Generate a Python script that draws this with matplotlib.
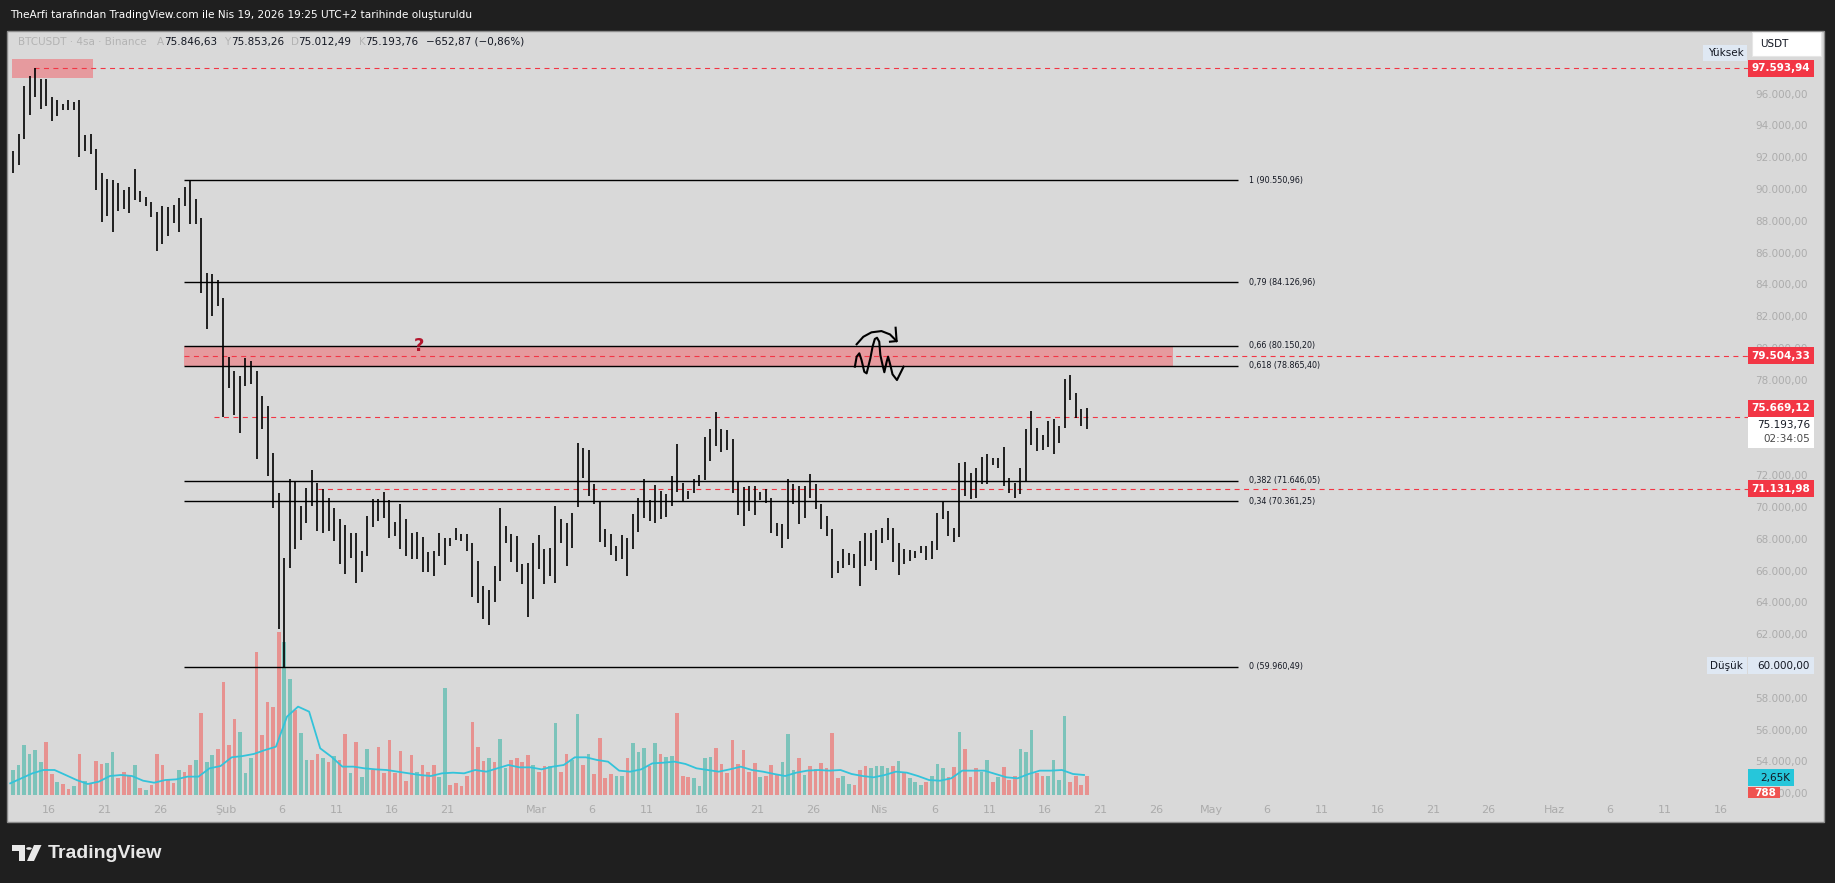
import matplotlib
matplotlib.use("Agg")
import matplotlib.pyplot as plt
import matplotlib.dates as mdates
from matplotlib.patches import Rectangle, Polygon, Circle
import numpy as np
import pandas as pd

W, H = 1835, 883

# --- BTCUSDT, 12h buckets (high / low) ---
highs = [
    92400, 93480, 96460, 97080, 97594, 96900, 96900, 95800, 95620, 95360,
    95620, 95450, 95620, 93420, 93430, 92530, 90990, 90650, 90550, 90400,
    89960, 90140, 91240, 89880, 89520, 89190, 88550, 88930, 88850, 89010,
    89440, 90140, 90551, 89370, 88160, 84740, 84640, 84300, 83150, 79420,
    78520, 78260, 79340, 79160, 78520, 76980, 76330, 73370, 70860, 66800,
    71730, 71620, 70050, 71200, 72320, 71480, 71100, 70540, 69950, 69260,
    68840, 68340, 68380, 67230, 69430, 70520, 70520, 70930, 70430, 69050,
    70160, 69260, 68340, 68420, 68130, 67170, 67230, 68340, 68070, 68070,
    68690, 68280, 68280, 67710, 66600, 65030, 64780, 66290, 69950, 68800,
    68280, 68170, 66390, 66450, 67750, 68210, 67330, 67440, 70050, 69260,
    69010, 69640, 74030, 73720, 73550, 71420, 70310, 68590, 68270, 67540,
    68210, 68070, 69530, 70580, 71770, 70430, 71350, 71000, 70790, 71940,
    73930, 71480, 71000, 71770, 71980, 74410, 74910, 75980, 74870, 74830,
    74280, 71620, 71270, 71310, 71310, 70930, 71100, 70580, 69010, 68900,
    71770, 71420, 71310, 71310, 72040, 71420, 70160, 69430, 68630, 66600,
    67330, 67120, 67020, 67860, 68380, 68380, 68580, 68690, 69320, 68690,
    67740, 67360, 67320, 67220, 67570, 67570, 67850, 69590, 70300, 69740,
    68690, 72740, 72820, 72150, 72460, 73160, 73300, 73100, 73100, 73790,
    71840, 71520, 72460, 74880, 76030, 74980, 74500, 75400, 75510, 75090,
    78020, 78300, 77190, 76180, 76240,
]
lows = [
    91000, 91500, 93120, 94665, 95795, 95050, 95230, 94290, 94590, 94990,
    94970, 94970, 92000, 92400, 92190, 89960, 87900, 88290, 87310, 88600,
    88750, 88470, 89300, 89190, 88930, 88240, 86100, 86540, 87050, 87830,
    87310, 88930, 87775, 87775, 83450, 81220, 81990, 82640, 75670, 77490,
    75800, 74660, 77630, 77700, 73000, 74920, 71960, 69910, 62330, 59960,
    66180, 67330, 67920, 68970, 70050, 68480, 68340, 68480, 67860, 66390,
    65760, 66810, 65200, 65900, 66910, 68750, 69110, 69320, 68070, 68170,
    67370, 66910, 66700, 66700, 65910, 65890, 65650, 66920, 66330, 67540,
    67920, 67850, 67230, 64340, 63970, 62930, 62560, 64000, 65340, 67750,
    66540, 65910, 65130, 63090, 64230, 66120, 65130, 65650, 65240, 67750,
    66290, 67440, 70000, 71830, 70680, 70160, 67790, 67500, 66960, 66600,
    66700, 65660, 67330, 68420, 69320, 69110, 69010, 69260, 69380, 70050,
    70930, 70370, 70470, 70890, 71310, 71690, 72870, 73820, 73450, 73610,
    70890, 69470, 68800, 69740, 69470, 70430, 70260, 68380, 68170, 67440,
    67960, 70160, 68900, 69320, 70580, 69850, 68630, 68170, 65550, 65860,
    66180, 66330, 66180, 65030, 66290, 66590, 66060, 67740, 67950, 66520,
    65750, 66440, 66590, 66800, 67110, 66690, 66740, 67320, 69210, 68160,
    67780, 68120, 70680, 70510, 70580, 71420, 71420, 72610, 72460, 71310,
    70890, 70580, 70790, 71620, 73870, 73510, 73580, 73790, 73300, 74040,
    74980, 76710, 75580, 75090, 74920,
]
volumes = [
    3700, 4400, 7350, 6000, 6600, 4900, 7840, 3100, 1960, 1600,
    880, 1300, 6000, 2060, 1700, 5000, 4600, 4700, 6350, 2450,
    3400, 2900, 4400, 1100, 800, 1450, 6100, 4400, 2200, 1700,
    3670, 3400, 4400, 5140, 12000, 4900, 5880, 6700, 16600, 7350,
    11100, 9300, 3200, 5500, 21000, 8800, 13700, 13000, 24000, 22500,
    17100, 12500, 9150, 5200, 5200, 6000, 5400, 4900, 5800, 5100,
    9000, 3200, 7800, 2700, 6700, 3700, 7000, 3200, 8100, 3200,
    6500, 2000, 5900, 3400, 4400, 3400, 4400, 2700, 15700, 1450,
    1700, 1300, 2800, 10800, 7000, 5000, 5500, 4900, 8200, 3900,
    5200, 5400, 4900, 5900, 4400, 3400, 4200, 4200, 10600, 3400,
    6000, 5100, 11900, 4400, 6100, 3100, 8400, 2450, 3100, 2800,
    2800, 5400, 7600, 6350, 6900, 4200, 7600, 6000, 5600, 5700,
    12000, 2800, 2700, 2450, 1300, 5400, 5600, 6900, 4600, 3200,
    8100, 4600, 6600, 3400, 4700, 2700, 2800, 4400, 2900, 4900,
    9000, 3700, 5500, 2900, 4200, 3800, 4700, 3900, 9150, 2450,
    2800, 1600, 1500, 3700, 4300, 3900, 4300, 4300, 3900, 4300,
    5000, 3200, 2450, 1960, 1470, 1960, 2800, 4550, 3900, 2700,
    4100, 9300, 6700, 2700, 3900, 3400, 5100, 1960, 2600, 4100,
    2200, 2800, 6700, 6350, 9550, 3200, 2800, 2800, 5100, 2200,
    11600, 1960, 2800, 1470, 2800,
]
# u = rising bar (teal volume), d = falling bar (red volume)
vol_dir = ("uuuuuuddud" "dududdduud" "ddududdddd" "udduduuddd" "duuudddddu"
           "uduuddudud" "duduuddddd" "ddduddduud" "dddddduduu" "ddddudduud"
           "duududdddu" "uduuududuu" "ddduuuuddd" "dddddudddu" "uududddddd"
           "uuddduuuud" "uduuuduuud" "duddduudud" "dduuudduuu" "udddd")
# volume moving average, one reading per day
vol_ma = [
    1715, 2450, 3185, 3675, 3675, 2940, 2200, 1617, 1960, 2790,
    2940, 2790, 2100, 1810, 2200, 2300, 2700, 2700, 3920, 4260,
    5540, 5730, 6030, 6600, 7100, 11520, 12990, 12250, 6860, 5640,
    4170, 4170, 3920, 3770, 3675, 3430, 3185, 2940, 2790, 3185,
    3280, 3185, 3675, 3430, 3920, 4410, 4065, 4065, 3770, 4165,
    4410, 5540, 5540, 5150, 4900, 3580, 3430, 3770, 4650, 4750,
    4900, 4560, 3920, 3675, 3430, 3770, 4165, 3675, 3430, 3090,
    2790, 3280, 3580, 3675, 3580, 3675, 3090, 2790, 2600, 2940,
    3430, 3280, 2790, 2200, 2100, 2450, 3580, 3580, 3580, 3090,
    2600, 2450, 3090, 3580, 3580, 3675, 3090, 2940,
]

fib_labels = ["1", "0,79", "0,66", "0,618", "0,382", "0,34", "0"]
fib_prices = [90550.96, 84126.96, 80150.20, 78865.40, 71646.05, 70361.25, 59960.49]
alert_prices = [97593.94, 79504.33, 75669.12, 71131.98]
alert_start_day = [-1.35, 12.2, 14.9, 24.3]   # days after 16 Jan
last_price = 75193.76
vol_last, vol_ma_last = "788", "2,65K"
scale_ticks = [52000, 54000, 56000, 58000, 62000, 64000, 66000, 68000, 70000, 72000,
               76000, 78000, 80000, 82000, 84000, 86000, 88000, 90000, 92000, 94000, 96000]

date_ticks = ["2026-01-16", "2026-01-21", "2026-01-26", "2026-02-01", "2026-02-06",
              "2026-02-11", "2026-02-16", "2026-02-21", "2026-03-01", "2026-03-06",
              "2026-03-11", "2026-03-16", "2026-03-21", "2026-03-26", "2026-04-01",
              "2026-04-06", "2026-04-11", "2026-04-16", "2026-04-21", "2026-04-26",
              "2026-05-01", "2026-05-06", "2026-05-11", "2026-05-16", "2026-05-21",
              "2026-05-26", "2026-06-01", "2026-06-06", "2026-06-11", "2026-06-16"]
date_labels = ["16", "21", "26", "Şub", "6", "11", "16", "21", "Mar", "6", "11", "16",
               "21", "26", "Nis", "6", "11", "16", "21", "26", "May", "6", "11", "16",
               "21", "26", "Haz", "6", "11", "16"]

# hand drawn marks (days after 16 Jan, price)
wave_days = [72.8, 72.96, 73.2, 73.4, 73.65, 73.86, 74.2, 74.4, 74.6, 74.8, 75.0,
             75.1, 75.3, 75.46, 75.67, 75.8, 76.0, 76.2, 76.6, 77.2]
wave_prices = [78820, 79450, 79660, 79240, 78500, 78400, 79350, 80080, 80560, 80640,
               80390, 79550, 78930, 78470, 79130, 79450, 78930, 78340, 77980, 78820]
arc_days = [72.96, 73.56, 74.3, 75.2, 75.97, 76.57]
arc_prices = [80230, 80700, 80980, 81060, 80850, 80430]
head_days = [76.48, 76.57, 75.97]
head_prices = [81270, 80430, 80390]


def tr(v):
    s = f"{v:,.2f}"
    return s.replace(",", "X").replace(".", ",").replace("X", ".")


def fx(px):
    return px / W


def fy(py):
    return 1 - py / H


base = mdates.date2num(pd.Timestamp("2026-01-16"))
bar_x = mdates.date2num(pd.date_range("2026-01-12 12:00", periods=len(highs), freq="12h")) + 0.25
ma_x = mdates.date2num(pd.date_range("2026-01-12 12:00", periods=len(vol_ma), freq="D"))

fig = plt.figure(figsize=(W / 100, H / 100), dpi=100, facecolor="#1f1f1f")
panel = Rectangle((fx(7), fy(822)), fx(1824) - fx(7), fy(31) - fy(822), transform=fig.transFigure,
                  facecolor="#d9d9d9", edgecolor="#8c8c8c", lw=1.0, zorder=-1)
fig.patches.append(panel)

axv = fig.add_axes([fx(7), fy(797), fx(1748) - fx(7), fy(31) - fy(797)])
axv.set_facecolor("none")
axp = axv.twinx()
for a in (axv, axp):
    for s in a.spines.values():
        s.set_visible(False)

axv.set_xlim(base - 3.794, base + 153.48)
axv.set_ylim(-294, 112300)
axp.set_ylim(51757, 99931)

# volume + MA
vcol = ["#7cc3ba" if c == "u" else "#e79290" for c in vol_dir]
axv.bar(bar_x, volumes, width=0.33, color=vcol, linewidth=0)
axv.plot(ma_x, vol_ma, color="#33c3da", lw=1.3)
axv.set_yticks([])
axv.set_xticks(mdates.date2num(pd.to_datetime(date_ticks)))
axv.set_xticklabels(date_labels)
axv.tick_params(axis="x", length=0, pad=6, labelsize=8, labelcolor="#ababab")

# zones and levels
zx0, zx1 = base + 12.2, base + 107.4
axp.add_patch(Rectangle((zx0, fib_prices[3]), base + 101.5 - zx0, fib_prices[2] - fib_prices[3],
                        facecolor="#e69a9e", edgecolor="none", zorder=1))
axp.add_patch(Rectangle((base - 3.37, 96950), 7.3, 1250, facecolor="#e69a9e", edgecolor="none", zorder=1))
axp.hlines(fib_prices, zx0, zx1, color="black", lw=1.0, zorder=2)
for lab, p in zip(fib_labels, fib_prices):
    axp.annotate(f"{lab} ({tr(p)})", (zx1, p), xytext=(11, 0), textcoords="offset pixels",
                 fontsize=5.8, color="#131722", va="center", ha="left")
for p, d0 in zip(alert_prices, alert_start_day):
    axp.hlines(p, base + d0, base + 153.48, color="#f23645", lw=0.8, linestyles=(0, (4.5, 4)), zorder=2)

# price bars
axp.vlines(bar_x, lows, highs, color="black", lw=1.2, zorder=3)

# drawings
axp.plot(base + np.array(wave_days), wave_prices, color="black", lw=1.5, zorder=4)
axp.plot(base + np.array(arc_days), arc_prices, color="black", lw=1.5, zorder=4)
axp.plot(base + np.array(head_days), head_prices, color="black", lw=1.5, zorder=4)
axp.text(base + 33.4, 80100, "?", color="#b3162d", fontsize=13, fontweight="bold",
         ha="center", va="center", zorder=4)

# price scale (60.000 and 74.000 sit under the Düşük / last price boxes)
axp.set_yticks(scale_ticks)
axp.set_yticklabels([tr(v) for v in scale_ticks])
axp.tick_params(axis="y", length=0, pad=43, labelsize=7.5, labelcolor="#acacac")
for t in axp.get_yticklabels():
    t.set_ha("right")


def py_of(price):
    return H - axp.transData.transform((base, price))[1]


def box(x0, x1, yc, h, face, text=None, tcolor="white", tx=None, bold=False, size=7.5, ha="right"):
    fig.patches.append(Rectangle((fx(x0), fy(yc + h / 2)), fx(x1) - fx(x0), h / H,
                                 transform=fig.transFigure, facecolor=face, edgecolor="none", zorder=4))
    if text is not None:
        fig.text(fx(tx), fy(yc), text, color=tcolor, fontsize=size, ha=ha, va="center",
                 fontweight="bold" if bold else "normal", zorder=5)


push = [0, 0, -8.3, 0]
for p, dy in zip(alert_prices, push):
    box(1748, 1814, py_of(p) + dy, 17, "#f23645", tr(p), "white", 1810, bold=True)
yl = py_of(last_price)
box(1748, 1814, yl + 8, 31, "white")
fig.text(fx(1810), fy(yl + 1), tr(last_price), color="#131722", fontsize=7.5, ha="right", va="center", zorder=5)
fig.text(fx(1810), fy(yl + 14.5), "02:34:05", color="#4a4a4a", fontsize=7.5, ha="right", va="center", zorder=5)

box(1703, 1747, 53, 16, "#dfe8f3", "Yüksek", "#131722", 1744, size=7.5)
fig.patches.append(Rectangle((fx(1752), fy(56)), fx(1821) - fx(1752), 24 / H, transform=fig.transFigure,
                             facecolor="white", edgecolor="#e6e6e6", lw=0.8, zorder=4))
fig.text(fx(1760), fy(44), "USDT", color="#131722", fontsize=7.5, va="center", zorder=5)
yd = py_of(60000)
box(1707, 1747, yd, 17, "#dfe8f3", "Düşük", "#131722", 1743, size=7.5)
box(1748, 1814, yd, 17, "#dfe8f3", tr(60000), "#131722", 1810, size=7.5)
box(1748, 1794, 777.5, 17, "#26c6da", vol_ma_last, "#131722", 1790, size=7.5)
box(1748, 1780, 793, 12, "#ef5350", vol_last, "white", 1776, bold=True, size=7.5)
# time scale strip hides what runs below the chart area
fig.patches.append(Rectangle((fx(1745), fy(806)), fx(1823) - fx(1745), 8.5 / H, transform=fig.transFigure,
                             facecolor="#d9d9d9", edgecolor="none", zorder=6))

# header and legend
fig.text(fx(10), fy(15), "TheArfi tarafından TradingView.com ile Nis 19, 2026 19:25 UTC+2 tarihinde oluşturuldu",
         color="white", fontsize=7.6, va="center")
leg = [(18, "BTCUSDT · 4sa · Binance", "#b3b3b3"), (157, "A", "#b3b3b3"), (164, "75.846,63", "#131722"),
       (224, "Y", "#b3b3b3"), (231, "75.853,26", "#131722"), (291, "D", "#b3b3b3"),
       (298, "75.012,49", "#131722"), (359, "K", "#b3b3b3"), (365, "75.193,76", "#131722"),
       (426, "−652,87 (−0,86%)", "#131722")]
for x, s, c in leg:
    fig.text(fx(x), fy(42), s, color=c, fontsize=7.5, va="center")

# TradingView logo
fig.patches.append(Polygon([(fx(12), fy(845)), (fx(25), fy(845)), (fx(25), fy(861)), (fx(19), fy(861)),
                            (fx(19), fy(851)), (fx(12), fy(851))], closed=True, transform=fig.transFigure,
                           facecolor="#e8e8e8", edgecolor="none"))
fig.patches.append(Circle((fx(29), fy(848.5)), 2.8 / W, transform=fig.transFigure, facecolor="#e8e8e8",
                          edgecolor="none"))
fig.patches.append(Polygon([(fx(34), fy(845)), (fx(41.5), fy(845)), (fx(34), fy(861)), (fx(27), fy(861))],
                           closed=True, transform=fig.transFigure, facecolor="#e8e8e8", edgecolor="none"))
fig.text(fx(48), fy(853), "TradingView", color="#e8e8e8", fontsize=14, fontweight="bold",
         family="Liberation Sans", va="center")

fig.savefig("out.png", dpi=100, facecolor=fig.get_facecolor())
